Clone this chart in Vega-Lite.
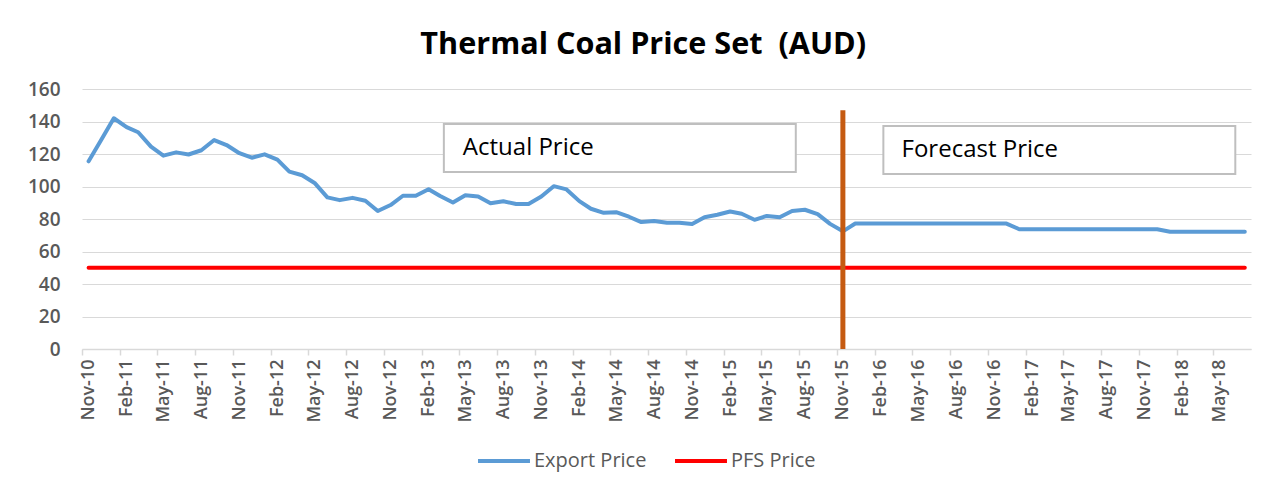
{
  "$schema": "https://vega.github.io/schema/vega-lite/v6.json",
  "width": 1169,
  "height": 260,
  "autosize": "none",
  "padding": {"left": 82, "top": 89, "right": 26, "bottom": 135},
  "background": "white",
  "title": {
    "text": "Thermal Coal Price Set \u00a0(AUD)",
    "font": "Open Sans",
    "fontSize": 30.6,
    "fontWeight": "bold",
    "color": "#000000",
    "anchor": "middle",
    "frame": "bounds",
    "offset": 19,
    "dx": 4
  },
  "config": {
    "view": {"stroke": null},
    "font": "Open Sans"
  },
  "datasets": {
    "prices": [
      {"date": "2010-11-01", "Export Price": 115.5, "PFS Price": 50},
      {"date": "2010-12-01", "Export Price": 128.5, "PFS Price": 50},
      {"date": "2011-01-01", "Export Price": 142, "PFS Price": 50},
      {"date": "2011-02-01", "Export Price": 136.5, "PFS Price": 50},
      {"date": "2011-03-01", "Export Price": 133.4, "PFS Price": 50},
      {"date": "2011-04-01", "Export Price": 124.5, "PFS Price": 50},
      {"date": "2011-05-01", "Export Price": 119, "PFS Price": 50},
      {"date": "2011-06-01", "Export Price": 121, "PFS Price": 50},
      {"date": "2011-07-01", "Export Price": 119.7, "PFS Price": 50},
      {"date": "2011-08-01", "Export Price": 122.3, "PFS Price": 50},
      {"date": "2011-09-01", "Export Price": 128.6, "PFS Price": 50},
      {"date": "2011-10-01", "Export Price": 125.5, "PFS Price": 50},
      {"date": "2011-11-01", "Export Price": 120.5, "PFS Price": 50},
      {"date": "2011-12-01", "Export Price": 117.7, "PFS Price": 50},
      {"date": "2012-01-01", "Export Price": 119.8, "PFS Price": 50},
      {"date": "2012-02-01", "Export Price": 116.5, "PFS Price": 50},
      {"date": "2012-03-01", "Export Price": 109.2, "PFS Price": 50},
      {"date": "2012-04-01", "Export Price": 106.9, "PFS Price": 50},
      {"date": "2012-05-01", "Export Price": 102.2, "PFS Price": 50},
      {"date": "2012-06-01", "Export Price": 93.3, "PFS Price": 50},
      {"date": "2012-07-01", "Export Price": 91.6, "PFS Price": 50},
      {"date": "2012-08-01", "Export Price": 93, "PFS Price": 50},
      {"date": "2012-09-01", "Export Price": 91.2, "PFS Price": 50},
      {"date": "2012-10-01", "Export Price": 84.9, "PFS Price": 50},
      {"date": "2012-11-01", "Export Price": 88.6, "PFS Price": 50},
      {"date": "2012-12-01", "Export Price": 94.3, "PFS Price": 50},
      {"date": "2013-01-01", "Export Price": 94.3, "PFS Price": 50},
      {"date": "2013-02-01", "Export Price": 98.3, "PFS Price": 50},
      {"date": "2013-03-01", "Export Price": 94.1, "PFS Price": 50},
      {"date": "2013-04-01", "Export Price": 90.1, "PFS Price": 50},
      {"date": "2013-05-01", "Export Price": 94.6, "PFS Price": 50},
      {"date": "2013-06-01", "Export Price": 93.9, "PFS Price": 50},
      {"date": "2013-07-01", "Export Price": 89.7, "PFS Price": 50},
      {"date": "2013-08-01", "Export Price": 90.9, "PFS Price": 50},
      {"date": "2013-09-01", "Export Price": 89.2, "PFS Price": 50},
      {"date": "2013-10-01", "Export Price": 89.2, "PFS Price": 50},
      {"date": "2013-11-01", "Export Price": 93.8, "PFS Price": 50},
      {"date": "2013-12-01", "Export Price": 100.2, "PFS Price": 50},
      {"date": "2014-01-01", "Export Price": 98.2, "PFS Price": 50},
      {"date": "2014-02-01", "Export Price": 91, "PFS Price": 50},
      {"date": "2014-03-01", "Export Price": 86.3, "PFS Price": 50},
      {"date": "2014-04-01", "Export Price": 83.8, "PFS Price": 50},
      {"date": "2014-05-01", "Export Price": 84.2, "PFS Price": 50},
      {"date": "2014-06-01", "Export Price": 81.4, "PFS Price": 50},
      {"date": "2014-07-01", "Export Price": 78.1, "PFS Price": 50},
      {"date": "2014-08-01", "Export Price": 78.8, "PFS Price": 50},
      {"date": "2014-09-01", "Export Price": 77.7, "PFS Price": 50},
      {"date": "2014-10-01", "Export Price": 77.7, "PFS Price": 50},
      {"date": "2014-11-01", "Export Price": 76.9, "PFS Price": 50},
      {"date": "2014-12-01", "Export Price": 81.1, "PFS Price": 50},
      {"date": "2015-01-01", "Export Price": 82.6, "PFS Price": 50},
      {"date": "2015-02-01", "Export Price": 84.6, "PFS Price": 50},
      {"date": "2015-03-01", "Export Price": 83.2, "PFS Price": 50},
      {"date": "2015-04-01", "Export Price": 79.5, "PFS Price": 50},
      {"date": "2015-05-01", "Export Price": 81.9, "PFS Price": 50},
      {"date": "2015-06-01", "Export Price": 81.1, "PFS Price": 50},
      {"date": "2015-07-01", "Export Price": 84.9, "PFS Price": 50},
      {"date": "2015-08-01", "Export Price": 85.7, "PFS Price": 50},
      {"date": "2015-09-01", "Export Price": 83, "PFS Price": 50},
      {"date": "2015-10-01", "Export Price": 77, "PFS Price": 50},
      {"date": "2015-11-01", "Export Price": 72.4, "PFS Price": 50},
      {"date": "2015-12-01", "Export Price": 77.2, "PFS Price": 50},
      {"date": "2016-01-01", "Export Price": 77.2, "PFS Price": 50},
      {"date": "2016-02-01", "Export Price": 77.2, "PFS Price": 50},
      {"date": "2016-03-01", "Export Price": 77.2, "PFS Price": 50},
      {"date": "2016-04-01", "Export Price": 77.2, "PFS Price": 50},
      {"date": "2016-05-01", "Export Price": 77.2, "PFS Price": 50},
      {"date": "2016-06-01", "Export Price": 77.2, "PFS Price": 50},
      {"date": "2016-07-01", "Export Price": 77.2, "PFS Price": 50},
      {"date": "2016-08-01", "Export Price": 77.2, "PFS Price": 50},
      {"date": "2016-09-01", "Export Price": 77.2, "PFS Price": 50},
      {"date": "2016-10-01", "Export Price": 77.2, "PFS Price": 50},
      {"date": "2016-11-01", "Export Price": 77.2, "PFS Price": 50},
      {"date": "2016-12-01", "Export Price": 77.2, "PFS Price": 50},
      {"date": "2017-01-01", "Export Price": 73.7, "PFS Price": 50},
      {"date": "2017-02-01", "Export Price": 73.7, "PFS Price": 50},
      {"date": "2017-03-01", "Export Price": 73.7, "PFS Price": 50},
      {"date": "2017-04-01", "Export Price": 73.7, "PFS Price": 50},
      {"date": "2017-05-01", "Export Price": 73.7, "PFS Price": 50},
      {"date": "2017-06-01", "Export Price": 73.7, "PFS Price": 50},
      {"date": "2017-07-01", "Export Price": 73.7, "PFS Price": 50},
      {"date": "2017-08-01", "Export Price": 73.7, "PFS Price": 50},
      {"date": "2017-09-01", "Export Price": 73.7, "PFS Price": 50},
      {"date": "2017-10-01", "Export Price": 73.7, "PFS Price": 50},
      {"date": "2017-11-01", "Export Price": 73.7, "PFS Price": 50},
      {"date": "2017-12-01", "Export Price": 73.7, "PFS Price": 50},
      {"date": "2018-01-01", "Export Price": 72.2, "PFS Price": 50},
      {"date": "2018-02-01", "Export Price": 72.2, "PFS Price": 50},
      {"date": "2018-03-01", "Export Price": 72.2, "PFS Price": 50},
      {"date": "2018-04-01", "Export Price": 72.2, "PFS Price": 50},
      {"date": "2018-05-01", "Export Price": 72.2, "PFS Price": 50},
      {"date": "2018-06-01", "Export Price": 72.2, "PFS Price": 50},
      {"date": "2018-07-01", "Export Price": 72.2, "PFS Price": 50}
    ],
    "boxes": [
      {"label": "Actual Price", "start": "2013-03-10", "end": "2015-07-10", "low": 108.9, "high": 138.5, "textAt": "2013-04-25", "textY": 123.7},
      {"label": "Forecast Price", "start": "2016-02-07", "end": "2018-06-08", "low": 107.7, "high": 137.2, "textAt": "2016-03-22", "textY": 122.5}
    ],
    "divider": [
      {"date": "2015-11-01", "bottom": 0, "top": 147}
    ]
  },
  "layer": [
    {
      "data": {"name": "prices"},
      "transform": [
        {"fold": ["Export Price", "PFS Price"], "as": ["series", "price"]}
      ],
      "mark": {"type": "line", "strokeWidth": 4, "strokeCap": "round", "strokeJoin": "round"},
      "encoding": {
        "x": {
          "field": "date",
          "type": "temporal",
          "scale": {
            "type": "utc",
            "domain": [
              {"year": 2010, "month": 10, "date": 16, "utc": true},
              {"year": 2018, "month": 7, "date": 16, "utc": true}
            ]
          },
          "axis": {
            "title": null,
            "format": "%b-%y",
            "tickCount": 500,
            "values": [
              {"year": 2010, "month": 11, "date": 1, "utc": true},
              {"year": 2011, "month": 2, "date": 1, "utc": true},
              {"year": 2011, "month": 5, "date": 1, "utc": true},
              {"year": 2011, "month": 8, "date": 1, "utc": true},
              {"year": 2011, "month": 11, "date": 1, "utc": true},
              {"year": 2012, "month": 2, "date": 1, "utc": true},
              {"year": 2012, "month": 5, "date": 1, "utc": true},
              {"year": 2012, "month": 8, "date": 1, "utc": true},
              {"year": 2012, "month": 11, "date": 1, "utc": true},
              {"year": 2013, "month": 2, "date": 1, "utc": true},
              {"year": 2013, "month": 5, "date": 1, "utc": true},
              {"year": 2013, "month": 8, "date": 1, "utc": true},
              {"year": 2013, "month": 11, "date": 1, "utc": true},
              {"year": 2014, "month": 2, "date": 1, "utc": true},
              {"year": 2014, "month": 5, "date": 1, "utc": true},
              {"year": 2014, "month": 8, "date": 1, "utc": true},
              {"year": 2014, "month": 11, "date": 1, "utc": true},
              {"year": 2015, "month": 2, "date": 1, "utc": true},
              {"year": 2015, "month": 5, "date": 1, "utc": true},
              {"year": 2015, "month": 8, "date": 1, "utc": true},
              {"year": 2015, "month": 11, "date": 1, "utc": true},
              {"year": 2016, "month": 2, "date": 1, "utc": true},
              {"year": 2016, "month": 5, "date": 1, "utc": true},
              {"year": 2016, "month": 8, "date": 1, "utc": true},
              {"year": 2016, "month": 11, "date": 1, "utc": true},
              {"year": 2017, "month": 2, "date": 1, "utc": true},
              {"year": 2017, "month": 5, "date": 1, "utc": true},
              {"year": 2017, "month": 8, "date": 1, "utc": true},
              {"year": 2017, "month": 11, "date": 1, "utc": true},
              {"year": 2018, "month": 2, "date": 1, "utc": true},
              {"year": 2018, "month": 5, "date": 1, "utc": true}
            ],
            "labelAngle": 270,
            "labelFont": "Open Sans",
            "labelFontSize": 18,
            "labelFontWeight": 600,
            "labelColor": "#595959",
            "labelPadding": 4,
            "labelFlush": false,
            "labelOverlap": false,
            "grid": false,
            "domainColor": "#D9D9D9",
            "domainWidth": 1.5,
            "tickColor": "#D9D9D9",
            "tickWidth": 1.5,
            "tickSize": 6,
            "tickOffset": -6.3,
            "labelOffset": 6.3
          }
        },
        "y": {
          "field": "price",
          "type": "quantitative",
          "scale": {"domain": [0, 160], "nice": false},
          "axis": {
            "title": null,
            "tickCount": 500,
            "format": "d",
            "values": [0, 20, 40, 60, 80, 100, 120, 140, 160],
            "labelFont": "Open Sans",
            "labelFontSize": 19,
            "labelFontWeight": 600,
            "labelColor": "#595959",
            "labelPadding": 22,
            "labelOverlap": false,
            "ticks": false,
            "domain": false,
            "gridColor": "#D9D9D9",
            "gridWidth": 1.2
          }
        },
        "color": {
          "field": "series",
          "type": "nominal",
          "scale": {"domain": ["Export Price", "PFS Price"], "range": ["#5B9BD5", "#FF0000"]},
          "legend": {
            "title": null,
            "orient": "none",
            "legendX": 394,
            "legendY": 344,
            "direction": "horizontal",
            "symbolType": "stroke",
            "symbolSize": 2700,
            "symbolStrokeWidth": 4,
            "labelFont": "Open Sans",
            "labelFontSize": 20,
            "labelColor": "#595959",
            "columnPadding": 20,
            "labelOffset": 2
          }
        }
      }
    },
    {
      "data": {"name": "divider"},
      "mark": {"type": "rule", "color": "#C55A11", "strokeWidth": 5},
      "encoding": {
        "x": {"field": "date", "type": "temporal"},
        "y": {"field": "bottom", "type": "quantitative"},
        "y2": {"field": "top"}
      }
    },
    {
      "data": {"name": "boxes"},
      "mark": {"type": "rect", "fill": "white", "stroke": "#BFBFBF", "strokeWidth": 2},
      "encoding": {
        "x": {"field": "start", "type": "temporal"},
        "x2": {"field": "end"},
        "y": {"field": "low", "type": "quantitative"},
        "y2": {"field": "high"}
      }
    },
    {
      "data": {"name": "boxes"},
      "mark": {"type": "text", "align": "left", "baseline": "middle", "font": "Open Sans", "fontSize": 24, "color": "#000000"},
      "encoding": {
        "x": {"field": "textAt", "type": "temporal"},
        "y": {"field": "textY", "type": "quantitative"},
        "text": {"field": "label"}
      }
    }
  ]
}
